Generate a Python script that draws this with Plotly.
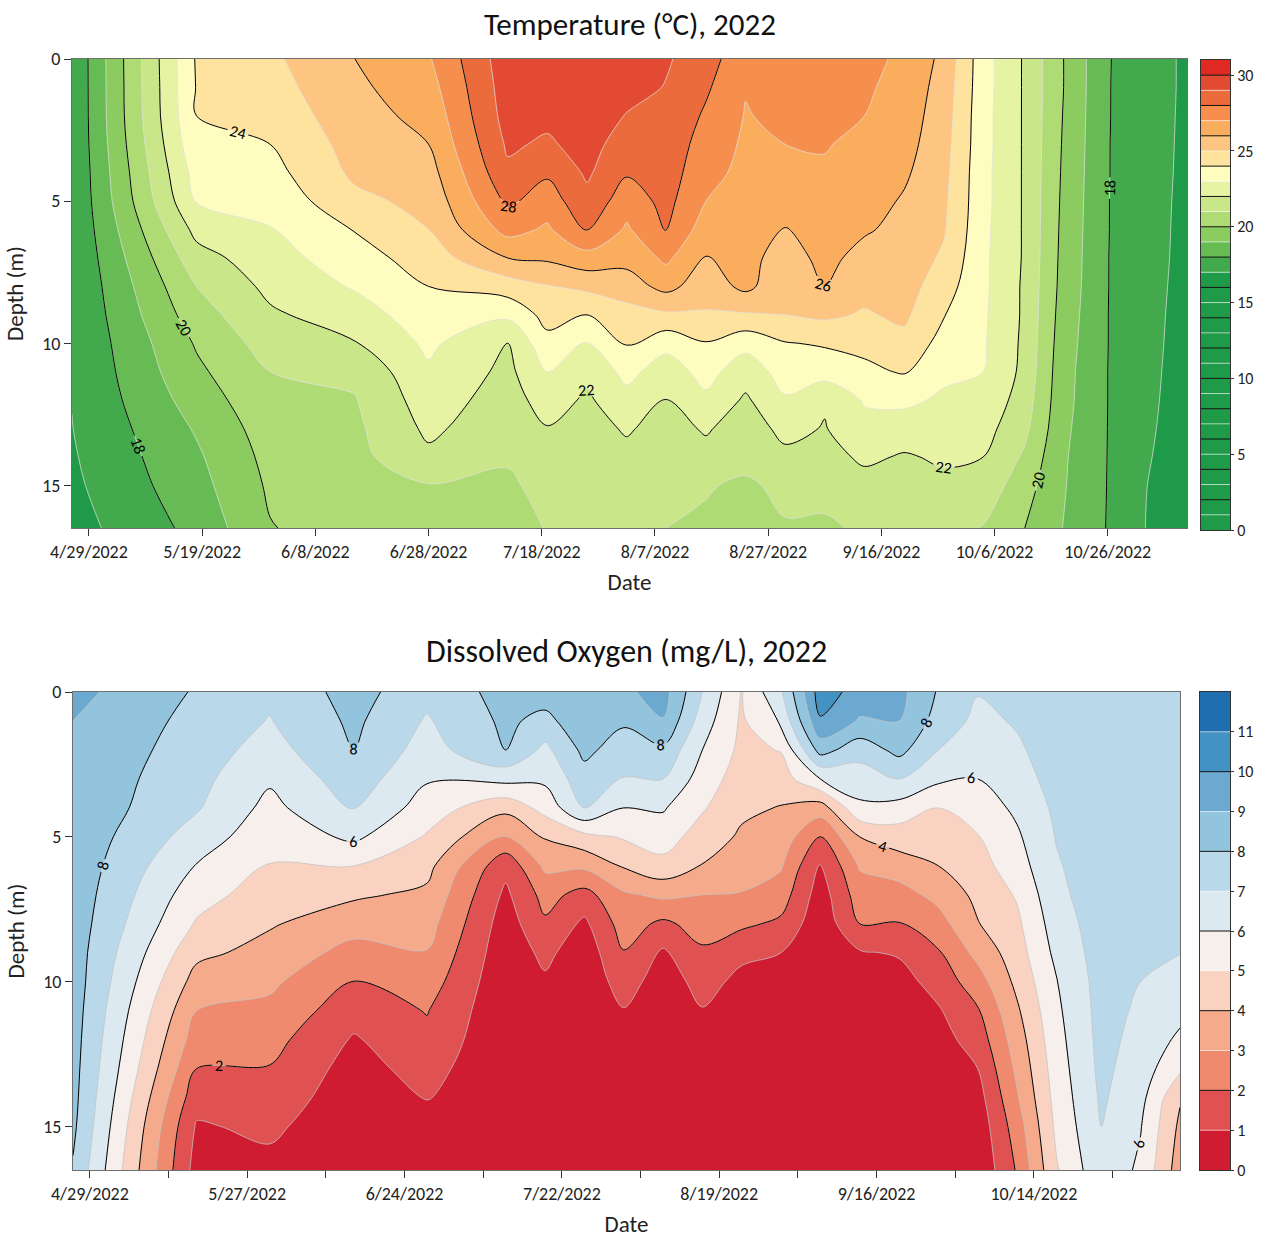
import numpy as np
import plotly.graph_objects as go

FONT = "Carlito, Lato, sans-serif"
W, H = 1265, 1240

# ---------------- data ----------------
depths = [0, 1, 2, 3, 4, 5, 6, 7, 8, 9, 10, 11, 12, 13, 14, 15, 16.5]

sample_dates = ["2022-04-26", "2022-05-18", "2022-05-31", "2022-06-15", "2022-06-28",
                "2022-07-12", "2022-07-19", "2022-07-26", "2022-08-02", "2022-08-09",
                "2022-08-16", "2022-08-23", "2022-08-30", "2022-09-06", "2022-09-13",
                "2022-09-20", "2022-09-27", "2022-10-04", "2022-10-11", "2022-10-18",
                "2022-10-26", "2022-11-02", "2022-11-09"]

# temperature profiles (deg C), one row per sample date, values at `depths`
temp_by_date = [
    [17.1, 17.1, 17.1, 17.1, 17.08, 17.07, 17.07, 17.06, 17.05, 17.05, 17.04, 17.03, 17.02, 16.98, 16.9, 16.8, 16.6],
    [24.1, 24.05, 24.0, 23.75, 23.4, 23.05, 22.3, 21.6, 21.0, 20.55, 20.1, 19.8, 19.45, 19.1, 18.85, 18.65, 18.3],
    [24.8, 24.6, 24.35, 24.0, 23.65, 23.3, 22.95, 22.6, 22.25, 21.85, 21.45, 21.0, 20.75, 20.5, 20.3, 20.15, 19.95],
    [26.0, 25.8, 25.6, 25.4, 25.2, 24.75, 24.05, 23.55, 23.1, 22.5, 21.95, 21.2, 20.95, 20.8, 20.7, 20.6, 20.5],
    [26.9, 26.6, 26.3, 26.0, 25.6, 25.3, 25.0, 24.5, 24.0, 23.6, 23.2, 22.85, 22.5, 22.2, 21.8, 20.95, 20.7],
    [29.6, 29.5, 29.4, 29.15, 28.8, 28.2, 27.35, 26.0, 24.5, 23.2, 22.0, 21.75, 21.55, 21.35, 21.1, 20.85, 20.6],
    [29.8, 29.6, 29.25, 28.85, 28.15, 27.5, 26.85, 26.15, 24.95, 24.35, 23.7, 23.0, 22.45, 21.95, 21.6, 21.3, 21.05],
    [29.9, 29.8, 29.6, 29.4, 29.15, 28.7, 28.1, 26.6, 25.25, 24.0, 22.9, 22.2, 21.85, 21.65, 21.45, 21.25, 21.05],
    [29.7, 29.35, 28.95, 28.5, 28.1, 27.45, 26.85, 26.3, 25.55, 24.6, 24.05, 23.3, 22.65, 22.1, 21.75, 21.35, 21.05],
    [29.1, 28.95, 28.8, 28.65, 28.5, 28.3, 28.1, 27.2, 26.3, 24.85, 23.3, 22.5, 21.95, 21.65, 21.4, 21.2, 21.0],
    [28.5, 28.15, 27.85, 27.55, 27.3, 27.0, 26.45, 25.95, 25.45, 24.9, 23.95, 23.35, 22.8, 22.1, 21.7, 21.05, 20.9],
    [27.2, 27.05, 26.95, 26.85, 26.75, 26.6, 26.45, 26.3, 26.25, 24.9, 23.3, 22.45, 21.85, 21.55, 21.2, 20.9, 20.6],
    [27.6, 27.45, 27.2, 27.0, 26.7, 26.35, 25.95, 25.6, 25.3, 25.0, 23.95, 23.4, 22.9, 22.25, 21.8, 21.15, 20.95],
    [27.5, 27.35, 27.2, 27.05, 26.9, 26.7, 26.5, 26.25, 26.05, 25.2, 24.1, 23.45, 22.1, 21.95, 21.6, 21.1, 20.95],
    [27.3, 27.15, 27.0, 26.8, 26.6, 26.4, 26.1, 25.7, 25.35, 24.9, 24.3, 23.75, 23.1, 22.65, 22.2, 21.6, 21.05],
    [26.8, 26.65, 26.5, 26.35, 26.15, 25.9, 25.75, 25.6, 25.45, 25.2, 24.7, 24.1, 23.2, 22.55, 21.9, 21.45, 21.0],
    [25.75, 25.6, 25.5, 25.4, 25.3, 25.2, 25.1, 24.85, 24.45, 24.05, 23.65, 23.2, 22.85, 22.5, 22.15, 21.75, 21.25],
    [23.4, 23.4, 23.35, 23.35, 23.3, 23.3, 23.25, 23.2, 23.2, 23.15, 23.1, 23.0, 22.7, 22.35, 22.0, 21.6, 20.95],
    [21.95, 21.95, 21.95, 21.95, 21.95, 21.95, 21.95, 21.95, 21.9, 21.9, 21.85, 21.8, 21.6, 21.35, 20.9, 20.5, 20.05],
    [20.05, 20.05, 20.0, 19.95, 19.9, 19.85, 19.8, 19.75, 19.7, 19.6, 19.5, 19.4, 19.35, 19.25, 19.15, 19.1, 19.0],
    [18.06, 18.05, 18.05, 18.04, 18.04, 18.03, 18.03, 18.02, 18.02, 18.01, 18.01, 18.0, 18.0, 17.99, 17.98, 17.97, 17.95],
    [17.4, 17.4, 17.38, 17.36, 17.34, 17.32, 17.3, 17.28, 17.25, 17.22, 17.2, 17.17, 17.14, 17.1, 17.05, 17.0, 16.95],
    [16.85, 16.85, 16.84, 16.83, 16.82, 16.8, 16.79, 16.78, 16.76, 16.74, 16.72, 16.7, 16.68, 16.66, 16.64, 16.62, 16.6],
]

# dissolved oxygen profiles (mg/L), one row per sample date
do_by_date = [
    [9.3, 9.0, 8.9, 8.8, 8.75, 8.7, 8.65, 8.6, 8.55, 8.5, 8.5, 8.45, 8.4, 8.35, 8.3, 8.2, 7.9],
    [7.9, 7.7, 7.5, 7.3, 7.1, 6.55, 5.95, 5.4, 4.9, 4.25, 3.6, 3.0, 2.5, 2.0, 1.4, 0.9, 0.6],
    [7.2, 6.95, 6.6, 6.15, 5.7, 5.35, 4.95, 4.5, 4.1, 3.65, 3.2, 2.75, 2.35, 1.95, 1.6, 1.2, 0.7],
    [8.4, 8.2, 8.0, 7.55, 7.1, 6.2, 5.0, 4.15, 3.4, 2.65, 1.95, 1.4, 0.9, 0.6, 0.4, 0.3, 0.2],
    [7.3, 6.9, 6.55, 6.1, 5.5, 4.9, 4.3, 3.8, 3.4, 2.95, 2.5, 2.05, 1.75, 1.4, 1.05, 0.7, 0.4],
    [8.35, 8.2, 8.0, 6.3, 4.3, 2.9, 1.3, 0.8, 0.5, 0.35, 0.25, 0.2, 0.15, 0.1, 0.1, 0.1, 0.1],
    [8.5, 7.7, 6.75, 6.2, 5.35, 4.1, 3.2, 2.35, 1.85, 1.25, 0.85, 0.5, 0.3, 0.2, 0.15, 0.1, 0.1],
    [8.9, 8.7, 8.25, 7.6, 7.0, 4.7, 3.2, 1.65, 0.8, 0.4, 0.3, 0.2, 0.15, 0.1, 0.1, 0.1, 0.1],
    [8.8, 8.15, 7.5, 6.95, 6.0, 5.1, 4.1, 2.85, 2.45, 1.95, 1.45, 0.95, 0.6, 0.4, 0.3, 0.2, 0.15],
    [9.4, 8.95, 7.8, 7.0, 6.1, 5.45, 4.7, 3.2, 1.8, 0.85, 0.5, 0.35, 0.25, 0.2, 0.15, 0.15, 0.15],
    [7.0, 6.5, 6.0, 5.55, 5.1, 4.55, 3.95, 3.0, 2.4, 1.85, 1.35, 0.95, 0.6, 0.4, 0.3, 0.2, 0.15],
    [4.95, 4.85, 4.75, 4.5, 4.2, 3.85, 3.4, 2.95, 2.2, 1.2, 0.75, 0.5, 0.35, 0.25, 0.2, 0.2, 0.2],
    [6.9, 6.15, 5.05, 4.5, 3.95, 3.55, 3.1, 2.5, 1.8, 1.0, 0.6, 0.4, 0.3, 0.2, 0.2, 0.2, 0.2],
    [10.5, 9.9, 8.4, 6.0, 3.5, 2.0, 0.85, 0.5, 0.3, 0.2, 0.2, 0.2, 0.2, 0.2, 0.2, 0.2, 0.2],
    [9.6, 8.9, 7.4, 6.5, 5.8, 4.0, 3.1, 2.5, 2.0, 0.9, 0.55, 0.4, 0.3, 0.2, 0.2, 0.2, 0.2],
    [9.3, 9.0, 8.3, 7.0, 5.6, 4.5, 3.5, 2.6, 1.95, 1.1, 0.6, 0.45, 0.35, 0.3, 0.25, 0.2, 0.2],
    [7.9, 7.6, 7.0, 6.2, 5.0, 4.5, 4.0, 3.3, 2.6, 1.9, 1.4, 0.9, 0.6, 0.4, 0.3, 0.25, 0.2],
    [7.05, 6.75, 6.45, 6.0, 5.45, 4.95, 4.6, 4.25, 3.95, 3.3, 2.55, 1.9, 1.45, 1.0, 0.6, 0.35, 0.15],
    [7.35, 7.1, 6.85, 6.55, 6.2, 5.85, 5.55, 5.1, 4.8, 4.55, 4.25, 3.85, 3.5, 3.2, 2.9, 2.5, 2.1],
    [7.7, 7.6, 7.5, 7.4, 7.2, 7.05, 6.9, 6.75, 6.5, 6.25, 5.95, 5.8, 5.65, 5.5, 5.35, 5.2, 4.9],
    [7.9, 7.85, 7.8, 7.75, 7.7, 7.65, 7.6, 7.55, 7.5, 7.45, 7.4, 7.35, 7.3, 7.25, 7.15, 7.0, 6.75],
    [7.8, 7.75, 7.7, 7.6, 7.5, 7.45, 7.4, 7.3, 7.2, 7.1, 7.0, 6.85, 6.7, 6.5, 6.3, 6.05, 5.8],
    [7.7, 7.65, 7.6, 7.5, 7.45, 7.4, 7.3, 7.2, 7.1, 7.02, 6.7, 6.3, 5.8, 5.2, 4.1, 3.8, 3.5],
]

# band colours: one colour per 1-unit band starting at 0
temp_band_colors = ["#1f9a48"] * 17 + [
    "#42aa4c", "#66bb55", "#8ccb5f", "#aedb73", "#c9e688", "#e5f3a3", "#fffcbf",
    "#fee39e", "#fdc581", "#fbad5e", "#f68e4e", "#ec6b3d", "#e34a33", "#df2a23"]
do_band_colors = ["#d01c30", "#e05252", "#ef8a6e", "#f5ab8b", "#f9d2c2", "#f7efeb",
                  "#dce9f1", "#b9d8e9", "#93c4de", "#6ba9d1", "#4392c4", "#1f6eb0"]

temp_cbar_ticks = [0, 5, 10, 15, 20, 25, 30]
do_cbar_ticks = list(range(0, 12))

x_range = ["2022-04-26", "2022-11-09"]
DAY = 86400000

# ---------------- figure ----------------
fig = go.Figure()

def add_field(z_rows, n_bands, band_colors, line_col, xa, ya, label_size):
    z = np.array(z_rows).T
    nc = n_bands - 1
    cs = [[j / nc, band_colors[j]] for j in range(n_bands)]
    fig.add_trace(go.Contour(
        x=sample_dates, y=depths, z=z, autocontour=False,
        contours=dict(start=1, end=n_bands - 1, size=1, coloring="fill", showlines=True),
        colorscale=cs, line=dict(color=line_col, width=0.8, smoothing=1),
        showscale=False, hoverinfo="skip", xaxis=xa, yaxis=ya))
    fig.add_trace(go.Contour(
        x=sample_dates, y=depths, z=z, autocontour=False,
        contours=dict(start=2, end=n_bands - 1, size=2, coloring="none",
                      showlabels=True,
                      labelfont=dict(family=FONT, size=label_size, color="black")),
        line=dict(color="black", width=1, smoothing=1),
        showscale=False, hoverinfo="skip", xaxis=xa, yaxis=ya))

add_field(temp_by_date, 31, temp_band_colors, "rgba(225,225,225,0.9)", "x", "y", 16)
add_field(do_by_date, 12, do_band_colors, "rgba(195,195,195,0.95)", "x2", "y2", 16)

def add_cbar(band_colors, xa, ya, odd_col):
    n = len(band_colors)
    fig.add_trace(go.Bar(x=[0] * n, y=[1] * n, base=list(range(n)), width=1,
                         marker=dict(color=band_colors, line=dict(width=0)),
                         xaxis=xa, yaxis=ya, showlegend=False, hoverinfo="skip"))
    ev_x, ev_y, od_x, od_y = [], [], [], []
    for lv in range(1, n):
        if lv % 2 == 0:
            ev_x += [-0.5, 0.5, None]; ev_y += [lv, lv, None]
        else:
            od_x += [-0.5, 0.5, None]; od_y += [lv, lv, None]
    fig.add_trace(go.Scatter(x=od_x, y=od_y, mode="lines", line=dict(color=odd_col, width=1),
                             xaxis=xa, yaxis=ya, showlegend=False, hoverinfo="skip"))
    fig.add_trace(go.Scatter(x=ev_x, y=ev_y, mode="lines", line=dict(color="#111", width=1),
                             xaxis=xa, yaxis=ya, showlegend=False, hoverinfo="skip"))

add_cbar(temp_band_colors, "x3", "y3", "rgba(255,255,255,0.55)")
add_cbar(do_band_colors, "x4", "y4", "rgba(255,255,255,0.5)")

TICKF = dict(family=FONT, size=18, color="#222")
TITLEF = dict(family=FONT, size=23, color="#222")

axis_common = dict(showline=True, mirror=True, linecolor="#6e6e6e", linewidth=1,
                   showgrid=False, zeroline=False, ticks="outside", ticklen=7,
                   tickcolor="#333", tickfont=TICKF, automargin=False)
cbar_x = dict(range=[-0.5, 0.5], showticklabels=False, showgrid=False, zeroline=False,
              showline=True, mirror=True, linecolor="#333", linewidth=1, ticks="",
              automargin=False, fixedrange=True)
cbar_y = dict(side="right", showgrid=False, zeroline=False, showline=True, mirror=True,
              linecolor="#333", linewidth=1, ticks="outside", ticklen=3, tickcolor="#333",
              tickfont=dict(family=FONT, size=16, color="#222"), automargin=False)

fig.update_layout(
    width=W, height=H, margin=dict(l=0, r=0, t=0, b=0, autoexpand=False),
    paper_bgcolor="white", plot_bgcolor="white",
    font=dict(family=FONT, color="#222"),
    showlegend=False, barmode="overlay",
    xaxis=dict(domain=[72 / W, 1187 / W], anchor="y", type="date", range=x_range,
               tick0="2022-04-29", dtick=20 * DAY, tickformat="%-m/%-d/%Y",
               title=dict(text="Date", font=TITLEF, standoff=12),
               **axis_common),
    yaxis=dict(domain=[1 - 528 / H, 1 - 59 / H], anchor="x", range=[16.5, 0],
               tickvals=[0, 5, 10, 15],
               title=dict(text="Depth (m)", font=TITLEF, standoff=12),
               **axis_common),
    xaxis2=dict(domain=[73 / W, 1180 / W], anchor="y2", type="date", range=x_range,
                tick0="2022-04-29", dtick=28 * DAY, tickformat="%-m/%-d/%Y",
                minor=dict(tick0="2022-04-29", dtick=14 * DAY, ticks="outside", ticklen=7, tickcolor="#333"),
                title=dict(text="Date", font=TITLEF, standoff=12),
                **axis_common),
    yaxis2=dict(domain=[1 - 1170 / H, 1 - 692 / H], anchor="x2", range=[16.5, 0],
                tickvals=[0, 5, 10, 15],
                title=dict(text="Depth (m)", font=TITLEF, standoff=12),
                **axis_common),
    xaxis3=dict(domain=[1201 / W, 1230 / W], anchor="y3", **cbar_x),
    yaxis3=dict(domain=[1 - 530 / H, 1 - 60 / H], anchor="x3", range=[0, 31],
                tickvals=temp_cbar_ticks, **cbar_y),
    xaxis4=dict(domain=[1200 / W, 1230 / W], anchor="y4", **cbar_x),
    yaxis4=dict(domain=[1 - 1170 / H, 1 - 692 / H], anchor="x4", range=[0, 12],
                tickvals=do_cbar_ticks, **cbar_y),
    annotations=[
        dict(text="Temperature (°C), 2022", x=(72 + 1187) / 2 / W, y=1 - 3 / H,
             xref="paper", yref="paper", showarrow=False, xanchor="center", yanchor="top",
             font=dict(family=FONT, size=31, color="#111")),
        dict(text="Dissolved Oxygen (mg/L), 2022", x=(73 + 1180) / 2 / W, y=1 - 651 / H,
             xref="paper", yref="paper", showarrow=False, xanchor="center", yanchor="middle",
             font=dict(family=FONT, size=32, color="#111")),
    ],
)

fig.write_html("out.html")
